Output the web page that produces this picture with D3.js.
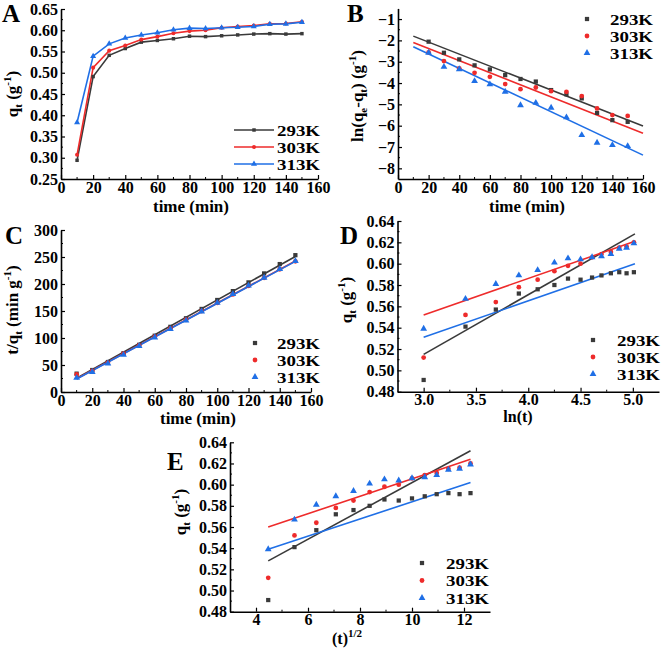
<!DOCTYPE html>
<html><head><meta charset="utf-8">
<script src="https://cdn.jsdelivr.net/npm/d3@7"></script>
<style>
body{margin:0;background:#fff;}
svg text{font-family:"Liberation Serif","Times New Roman",serif;font-weight:bold;fill:#000;}
</style></head>
<body><svg id="c" width="661" height="648"></svg>
<script>
// ---------- data ----------
const seriesNames = ["293K","303K","313K"];
const colors = ["#3a3a3a","#ee2b2b","#1f6fe6"];
const symbols = [d3.symbolSquare, d3.symbolCircle, d3.symbolTriangle];

const times = [10,20,30,40,50,60,70,80,90,100,110,120,130,140,150];
const q293 = [0.294,0.491,0.541,0.557,0.572,0.576,0.580,0.586,0.585,0.587,0.589,0.591,0.592,0.591,0.592];
const q303 = [0.307,0.512,0.552,0.564,0.578,0.585,0.593,0.598,0.600,0.606,0.609,0.611,0.615,0.616,0.620];
const q313 = [0.383,0.539,0.568,0.582,0.589,0.594,0.601,0.605,0.604,0.606,0.607,0.609,0.614,0.615,0.619];

// B: pseudo-first-order
const timesB = [20,30,40,50,60,70,80,90,100,110,120,130,140,150];
const lnB293 = [-2.06,-2.58,-2.89,-3.17,-3.36,-3.63,-3.81,-3.93,-4.33,-4.53,-4.72,-5.40,-5.74,-5.82];
const lnB303 = [-2.56,-2.97,-3.31,-3.52,-3.71,-4.05,-4.29,-4.21,-4.38,-4.41,-4.61,-5.19,-5.50,-5.54];
const lnB313 = [-2.58,-3.24,-3.35,-3.91,-4.06,-4.41,-5.04,-4.93,-5.16,-5.61,-6.44,-6.80,-6.91,-6.96];
const bSlope = [-0.02813,-0.02833,-0.03387];
const bIntercept = [-1.519,-1.817,-1.961];
const bFitRange = [10,160];

// C: pseudo-second-order (t/qt)
const tq293 = [34.0,40.7,55.5,71.8,87.4,104.2,120.7,136.5,153.8,170.4,186.8,203.0,219.6,236.9,253.4];
const tq303 = [32.6,39.1,54.3,70.9,86.5,102.6,118.0,133.8,150.0,165.0,180.6,196.4,211.4,227.3,241.9];
const tq313 = [26.1,37.1,52.8,68.7,84.9,101.0,116.5,132.2,149.0,165.0,181.2,197.0,211.7,227.6,242.3];
const cSlope = [1.6107,1.557,1.557];
const cIntercept = [9.4,8.93,8.43];
const cFitRange = [10,150];

// D & E: Elovich / intraparticle diffusion
const lnT = [3.00,3.40,3.69,3.91,4.09,4.25,4.38,4.50,4.61,4.70,4.79,4.87,4.94,5.01];
const sqrtT = [4.47,5.48,6.32,7.07,7.75,8.37,8.94,9.49,10.00,10.49,10.95,11.40,11.83,12.25];
const qD293 = [0.491,0.541,0.557,0.572,0.576,0.580,0.586,0.585,0.587,0.589,0.591,0.592,0.591,0.592];
const qD303 = [0.512,0.552,0.564,0.578,0.585,0.593,0.598,0.600,0.606,0.609,0.611,0.615,0.616,0.620];
const qD313 = [0.539,0.567,0.581,0.589,0.594,0.601,0.605,0.604,0.606,0.607,0.609,0.614,0.615,0.619];
const dSlope = [0.0559,0.03416,0.03416];
const dIntercept = [0.3473,0.4495,0.4285];
const dFitRange = [3.0,5.02];
const eSlope = [0.01337,0.008226,0.008098];
const eIntercept = [0.4682,0.5232,0.5028];
const eFitRange = [4.47,12.25];

const ticksTime = [0,20,40,60,80,100,120,140,160];
const ticksA = [0.25,0.30,0.35,0.40,0.45,0.50,0.55,0.60,0.65];
const ticksB = [-8,-7,-6,-5,-4,-3,-2,-1];
const ticksC = [0,50,100,150,200,250,300];
const ticksQ = [0.48,0.50,0.52,0.54,0.56,0.58,0.60,0.62,0.64];
const ticksD = [3.0,3.5,4.0,4.5,5.0];
const ticksE = [4,6,8,10,12];

// ---------- drawing ----------
const svg = d3.select("#c");

function panel(o){
  const g = svg.append("g");
  const x = d3.scaleLinear().domain(o.xd).range(o.xr);
  const y = d3.scaleLinear().domain(o.yd).range(o.yr);
  const ax = d3.axisBottom(x).tickValues(o.xt).tickFormat(o.xf).tickSizeInner(-4).tickSizeOuter(0).tickPadding(2);
  const ay = d3.axisLeft(y).tickValues(o.yt).tickFormat(o.yf).tickSizeInner(-4).tickSizeOuter(0).tickPadding(3);
  const gx = g.append("g").attr("transform",`translate(0,${o.yr[0]})`).call(ax);
  const gy = g.append("g").attr("transform",`translate(${o.xr[0]},0)`).call(ay);
  [gx,gy].forEach(a=>{
    a.select(".domain").attr("stroke","#000").attr("stroke-width",1.6);
    a.selectAll(".tick line").attr("stroke","#000").attr("stroke-width",1.2);
    a.selectAll(".tick text").style("font-size","16px").style("font-family","Liberation Serif").style("font-weight","bold");
  });
  gx.selectAll(".tick text").attr("dy","0.72em");
  // minor ticks
  const xm = o.xt.slice(0,-1).map((v,i)=>(v+o.xt[i+1])/2);
  const ym = o.yt.slice(0,-1).map((v,i)=>(v+o.yt[i+1])/2);
  g.selectAll(null).data(xm).join("line").attr("x1",d=>x(d)).attr("x2",d=>x(d))
    .attr("y1",o.yr[0]).attr("y2",o.yr[0]-2).attr("stroke","#000");
  g.selectAll(null).data(ym).join("line").attr("y1",d=>y(d)).attr("y2",d=>y(d))
    .attr("x1",o.xr[0]).attr("x2",o.xr[0]+2).attr("stroke","#000");

  // fits
  if(o.slope){
    o.slope.forEach((s,i)=>{
      const b = o.intercept[i];
      g.append("line").attr("x1",x(o.fr[0])).attr("y1",y(s*o.fr[0]+b))
        .attr("x2",x(o.fr[1])).attr("y2",y(s*o.fr[1]+b))
        .attr("stroke",colors[i]).attr("stroke-width",1.6);
    });
  }
  // connecting lines
  if(o.connect){
    o.ys.forEach((ys,i)=>{
      g.append("path").datum(o.xs.map((v,k)=>[v,ys[k]]))
        .attr("d",d3.line().x(d=>x(d[0])).y(d=>y(d[1])))
        .attr("fill","none").attr("stroke",colors[i]).attr("stroke-width",1.6);
    });
  }
  // markers
  const sz = o.msize || [18,18,20];
  o.ys.forEach((ys,i)=>{
    g.selectAll(null).data(o.xs.map((v,k)=>[v,ys[k]])).join("path")
      .attr("d",d3.symbol().type(symbols[i]).size(sz[i]))
      .attr("transform",d=>`translate(${x(d[0])},${y(d[1])})`)
      .attr("fill",colors[i]);
  });
  // legend
  seriesNames.forEach((nm,i)=>{
    const ly = o.leg[1] + i*o.leg[2];
    if(o.connect){
      g.append("line").attr("x1",o.leg[0]-20).attr("x2",o.leg[0]+20).attr("y1",ly).attr("y2",ly)
        .attr("stroke",colors[i]).attr("stroke-width",1.6);
    }
    g.append("path").attr("d",d3.symbol().type(symbols[i]).size(sz[i]))
      .attr("transform",`translate(${o.leg[0]},${ly})`).attr("fill",colors[i]);
    g.append("text").attr("x",o.leg[3]).attr("y",ly+5.5).style("font-size","15px")
      .attr("textLength",43).attr("lengthAdjust","spacingAndGlyphs").text(nm);
  });
  // panel letter
  g.append("text").attr("x",o.lab[0]).attr("y",o.lab[1]).style("font-size","25px").text(o.letter);
  // x title
  const xt = g.append("text").attr("x",o.xtp[0]).attr("y",o.xtp[1]).attr("text-anchor","middle").style("font-size",(o.xfs||17)+"px");
  o.xtitle(xt);
  // y title
  const yt = g.append("text").attr("transform",`translate(${o.ytp[0]},${o.ytp[1]}) rotate(-90)`)
    .attr("text-anchor","middle").style("font-size","17px");
  o.ytitle(yt);
}

function qtTitle(t){
  t.append("tspan").text("q");
  t.append("tspan").attr("dy",4).style("font-size","11px").text("t");
  t.append("tspan").attr("dy",-4).text(" (g");
  t.append("tspan").attr("dy",-7).style("font-size","11px").text("-1");
  t.append("tspan").attr("dy",7).text(")");
}
function timeTitle(t){ t.text("time (min)"); }
const f2 = d3.format(".2f"), f1 = d3.format(".1f"), f0 = d3.format("d");

// A
panel({letter:"A",lab:[2,22],xd:[0,160],xr:[61,318],yd:[0.25,0.65],yr:[179,9],
  xt:ticksTime,yt:ticksA,xf:f0,yf:f2,xs:times,ys:[q293,q303,q313],connect:true,msize:[12,13,16],
  leg:[254,130,17,277],xtp:[191,212],ytp:[18,94],xtitle:timeTitle,ytitle:qtTitle});

// B
panel({letter:"B",lab:[347,22],xd:[0,160],xr:[398,643],yd:[-8.5,-0.5],yr:[179,8.4],
  xt:ticksTime,yt:ticksB,xf:f0,yf:f0,xs:timesB,ys:[lnB293,lnB303,lnB313],
  slope:bSlope,intercept:bIntercept,fr:bFitRange,
  leg:[587,19,17,610],xtp:[527,212],ytp:[363,96],xtitle:timeTitle,
  ytitle:t=>{
    t.append("tspan").text("ln(q");
    t.append("tspan").attr("dy",4).style("font-size","11px").text("e");
    t.append("tspan").attr("dy",-4).text("-q");
    t.append("tspan").attr("dy",4).style("font-size","11px").text("t");
    t.append("tspan").attr("dy",-4).text(") (g");
    t.append("tspan").attr("dy",-7).style("font-size","11px").text("-1");
    t.append("tspan").attr("dy",7).text(")");
  }});

// C
panel({letter:"C",lab:[5,244],xd:[0,160],xr:[61,311],yd:[0,300],yr:[392,230],
  xt:ticksTime,yt:ticksC,xf:f0,yf:f0,xs:times,ys:[tq293,tq303,tq313],
  slope:cSlope,intercept:cIntercept,fr:cFitRange,
  leg:[255,343,17,277],xtp:[198,424],ytp:[18,310],xtitle:timeTitle,
  ytitle:t=>{
    t.append("tspan").text("t/q");
    t.append("tspan").attr("dy",4).style("font-size","11px").text("t");
    t.append("tspan").attr("dy",-4).text(" (min g");
    t.append("tspan").attr("dy",-7).style("font-size","11px").text("-1");
    t.append("tspan").attr("dy",7).text(")");
  }});

// D
panel({letter:"D",lab:[340,244],xd:[2.75,5.25],xr:[397.5,659],yd:[0.48,0.64],yr:[391.7,221],
  xt:ticksD,yt:ticksQ,xf:f1,yf:f2,xs:lnT,ys:[qD293,qD303,qD313],
  slope:dSlope,intercept:dIntercept,fr:dFitRange,
  leg:[593,340,17,617],xtp:[518,422],xfs:16,ytp:[352,300],
  xtitle:t=>t.text("ln(t)"),ytitle:qtTitle});

// E
panel({letter:"E",lab:[167,470],xd:[3,13],xr:[230,490],yd:[0.48,0.64],yr:[611.7,442.3],
  xt:ticksE,yt:ticksQ,xf:f0,yf:f2,xs:sqrtT,ys:[qD293,qD303,qD313],
  slope:eSlope,intercept:eIntercept,fr:eFitRange,
  leg:[422,563,17.5,446],xtp:[347,644],xfs:16,ytp:[186,512],
  xtitle:t=>{t.append("tspan").text("(t)");t.append("tspan").attr("dy",-7).style("font-size","11px").text("1/2");},
  ytitle:qtTitle});
</script></body></html>
